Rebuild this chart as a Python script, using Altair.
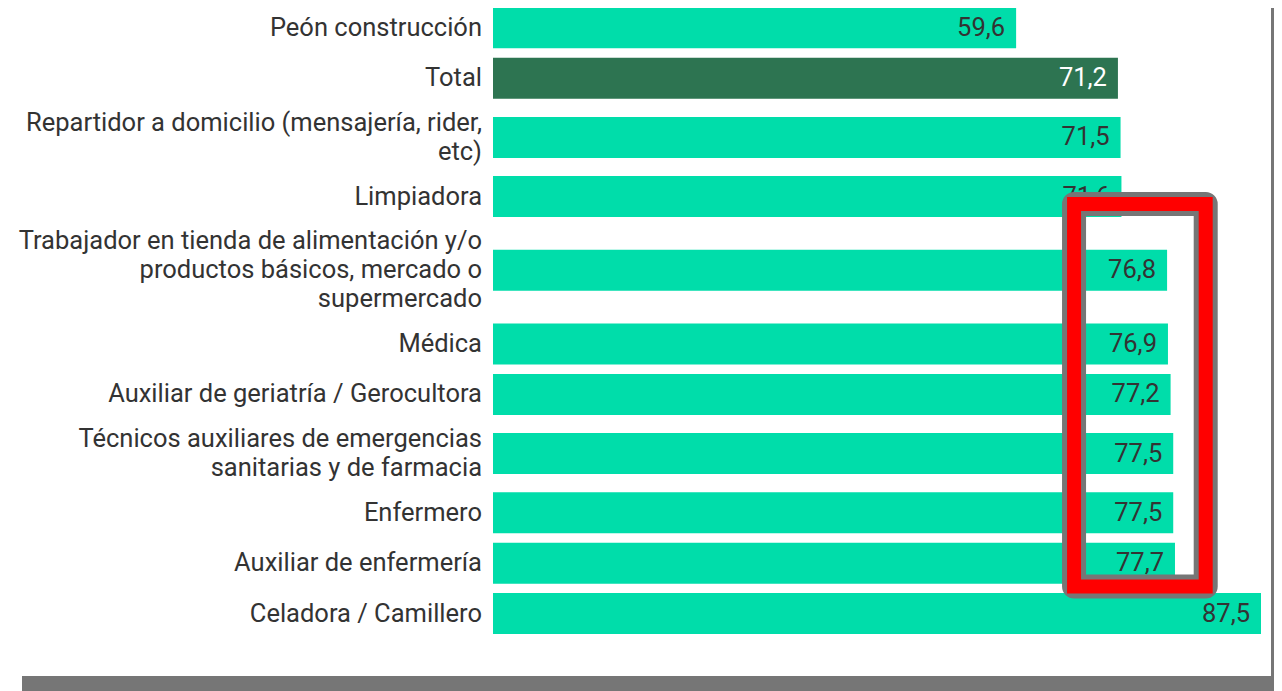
import altair as alt
import pandas as pd

# ---- data ----
categories = [
    "Peón construcción",
    "Total",
    "Repartidor a domicilio (mensajería, rider,\netc)",
    "Limpiadora",
    "Trabajador en tienda de alimentación y/o\nproductos básicos, mercado o\nsupermercado",
    "Médica",
    "Auxiliar de geriatría / Gerocultora",
    "Técnicos auxiliares de emergencias\nsanitarias y de farmacia",
    "Enfermero",
    "Auxiliar de enfermería",
    "Celadora / Camillero",
]
values = [59.6, 71.2, 71.5, 71.6, 76.8, 76.9, 77.2, 77.5, 77.5, 77.7, 87.5]
highlight_category = "Total"

# annotation frame (value units on x, row-layout units on y)
frame_x = [66.2, 81.2]
frame_y = [201.5, 584.0]

# ---- layout derived from label line counts ----
ROW_MIN, LINE_H, ROW_PAD, BAR_H = 50.4, 29, 10, 41
lines = [len(c.split("\n")) for c in categories]
heights = [max(ROW_MIN, LINE_H * n + ROW_PAD) for n in lines]
centers, acc = [], 0.0
for h in heights:
    centers.append(acc + h / 2)
    acc += h

df = pd.DataFrame({"label": categories, "value": values, "center": centers})
frame_df = pd.DataFrame({"x": [frame_x[0]], "x2": [frame_x[1]], "y": [frame_y[0]], "y2": [frame_y[1]]})

W, H = 768, 640
xscale = alt.Scale(domain=[0, 87.5], nice=False, zero=True)
yscale = alt.Scale(domain=[5.4, 5.4 + H], reverse=True, nice=False, zero=False)

CYAN = "#00DDAA"
DARK = "#2D7451"
TEXT = "#333333"
GRAY = "#767676"
FONT = "Roboto"
FS = 25.5

base = alt.Chart(df)

bars = base.transform_calculate(
    top=f"datum.center - {BAR_H / 2}", bot=f"datum.center + {BAR_H / 2}"
).mark_rect().encode(
    x=alt.X("value:Q", scale=xscale, axis=None),
    x2=alt.datum(0),
    y=alt.Y("top:Q", scale=yscale, axis=None),
    y2="bot:Q",
    color=alt.condition(alt.datum.label == highlight_category, alt.value(DARK), alt.value(CYAN)),
)

cat_labels = base.transform_calculate(
    lines="split(datum.label, '\\n')"
).transform_calculate(
    ty=f"datum.center - (length(datum.lines) - 1) * {LINE_H / 2}"
).mark_text(
    align="right", baseline="middle", dx=-11, font=FONT, fontSize=FS, lineHeight=LINE_H, color=TEXT
).encode(
    x=alt.value(0),
    y=alt.Y("ty:Q", scale=yscale, axis=None),
    text="lines:N",
)

val_labels = base.transform_calculate(
    txt="replace(format(datum.value, '.1f'), '.', ',')"
).mark_text(
    align="right", baseline="middle", dx=-11, font=FONT, fontSize=FS
).encode(
    x=alt.X("value:Q", scale=xscale, axis=None),
    y=alt.Y("center:Q", scale=yscale, axis=None),
    text="txt:N",
    color=alt.condition(alt.datum.label == highlight_category, alt.value("white"), alt.value(TEXT)),
)

frame_enc = dict(
    x=alt.X("x:Q", scale=xscale, axis=None),
    x2="x2:Q",
    y=alt.Y("y:Q", scale=yscale, axis=None),
    y2="y2:Q",
)
frame_gray = alt.Chart(frame_df).mark_rect(
    fillOpacity=0, stroke=GRAY, strokeWidth=24, strokeJoin="round"
).encode(**frame_enc)
frame_red = alt.Chart(frame_df).mark_rect(
    fillOpacity=0, stroke="#FF0000", strokeWidth=14, strokeJoin="miter"
).encode(**frame_enc)

right_edge = alt.Chart(df).mark_rect(color=GRAY).encode(
    x=alt.value(778), x2=alt.value(781), y=alt.value(0), y2=alt.value(684)
)
bottom_edge = alt.Chart(df).mark_rect(color=GRAY).encode(
    x=alt.value(-471), x2=alt.value(781), y=alt.value(668), y2=alt.value(684)
)

chart = alt.layer(
    bars, cat_labels, val_labels, frame_gray, frame_red, right_edge, bottom_edge
).properties(
    width=W,
    height=H,
    autosize=alt.AutoSizeParams(type="none"),
    padding={"left": 485, "top": 0, "right": 13, "bottom": 43},
).configure_view(stroke=None)

chart.save("out.html", embed_options={"renderer": "svg", "actions": False})
